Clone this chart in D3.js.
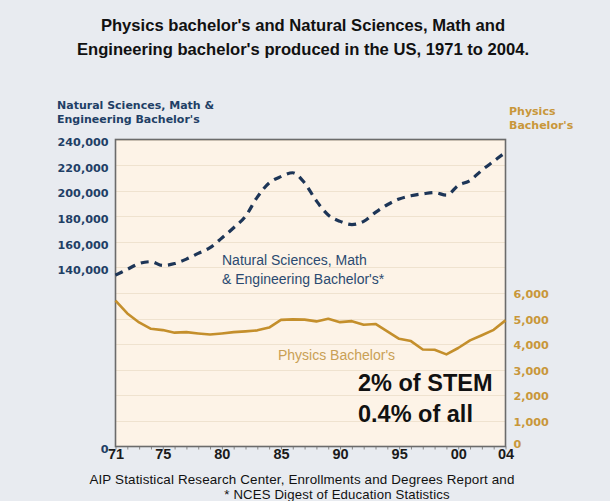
<!DOCTYPE html>
<html><head><meta charset="utf-8">
<script src="https://cdn.jsdelivr.net/npm/d3@7"></script>
<style>
html,body{margin:0;padding:0;background:#e8ebf0;}
svg{display:block;}
</style></head>
<body>
<script>
const years = d3.range(1971, 2005);
const nsmeValues = [134000,138500,143000,144500,141500,143000,146500,151000,155500,163000,
  171000,180000,195000,206000,211000,214000,206000,192000,181000,176000,
  173500,176000,183000,189000,193500,196000,197500,198500,196500,204000,
  208000,216000,223000,230000];
const physicsValues = [5700,5200,4850,4600,4550,4450,4470,4420,4380,4420,
  4470,4500,4540,4650,4950,4970,4960,4890,4990,4860,
  4900,4760,4790,4500,4210,4120,3790,3780,3600,3850,
  4150,4350,4560,4930];
const leftTicks = [0,140000,160000,180000,200000,220000,240000];
const gridValues = d3.range(20000, 240001, 20000);
const rightTicks = [0,1000,2000,3000,4000,5000,6000];
const xTickYears = [1971,1975,1980,1985,1990,1995,2000,2004];
const xTickLabels = ["71","75","80","85","90","95","00","04"];
const titleLines = ["Physics bachelor's and Natural Sciences, Math and",
  "Engineering bachelor's produced in the US, 1971 to 2004."];
const leftTitle = ["Natural Sciences, Math &", "Engineering Bachelor's"];
const rightTitle = ["Physics", "Bachelor's"];
const nsmeLabel = ["Natural Sciences, Math", "& Engineering Bachelor's*"];
const physicsLabel = "Physics Bachelor's";
const noteLines = ["2% of STEM", "0.4% of all"];
const sourceLines = ["AIP Statistical Research Center, Enrollments and Degrees Report and",
  "* NCES Digest of Education Statistics"];

const W = 610, H = 501;
const L = 115.5, R = 505.5, T = 139.5, B = 446.5;
const navy = "#1d3557", gold = "#c48f2c";

const svg = d3.select("body").append("svg").attr("width", W).attr("height", H);
svg.append("rect").attr("width", W).attr("height", H).attr("fill", "#e8ebf0");

const x = d3.scaleLinear().domain([1971, 2004]).range([L, R]);
const yL = d3.scaleLinear().domain([0, 240000]).range([B, T]);
const yR = d3.scaleLinear().domain([0, 12000]).range([B, T]);

// plot background
svg.append("rect").attr("x", L).attr("y", T).attr("width", R - L).attr("height", B - T)
  .attr("fill", "#fdf3e7");

// grid
svg.append("g").selectAll("line").data(gridValues).join("line")
  .attr("x1", L).attr("x2", R).attr("y1", d => Math.round(yL(d)) + 0.5).attr("y2", d => Math.round(yL(d)) + 0.5)
  .attr("stroke", "#efe2cf").attr("stroke-width", 1);

// bottom minor ticks
const xAxis = svg.append("g").attr("transform", `translate(0,${B})`)
  .call(d3.axisBottom(x).tickValues(years).tickSize(3).tickFormat(""));
xAxis.select(".domain").remove();
xAxis.selectAll("line").attr("stroke", "#888");

// frame
svg.append("rect").attr("x", L).attr("y", T).attr("width", R - L).attr("height", B - T)
  .attr("fill", "none").attr("stroke", "#6b6b6b").attr("stroke-width", 1.6);

// x labels
const xLab = svg.append("g").attr("transform", `translate(0,${B})`)
  .call(d3.axisBottom(x).tickValues(xTickYears).tickSize(0)
    .tickFormat((d, i) => xTickLabels[i]));
xLab.select(".domain").remove();
xLab.selectAll("text").attr("font-family", "Liberation Sans, Arial, sans-serif")
  .attr("font-weight", "bold").attr("font-size", 14.5).attr("fill", "#1a1a1a")
  .attr("y", 0).attr("dy", "12.5px");

// left axis
const la = svg.append("g").attr("transform", `translate(${L - 7},0)`)
  .call(d3.axisLeft(yL).tickValues(leftTicks).tickSize(0).tickFormat(d3.format(",")));
la.select(".domain").remove();
la.selectAll("text").attr("font-family", "DejaVu Sans, sans-serif").attr("font-weight", "bold")
  .attr("font-size", 11.2).attr("fill", "#1f3f66").attr("x", 0).attr("dy", "0.55em");

// right axis
const ra = svg.append("g").attr("transform", `translate(${R + 8},0)`)
  .call(d3.axisRight(yR).tickValues(rightTicks).tickSize(0).tickFormat(d3.format(",")));
ra.select(".domain").remove();
ra.selectAll("text").attr("font-family", "DejaVu Sans, sans-serif").attr("font-weight", "bold")
  .attr("font-size", 11.2).attr("fill", "#c8973a").attr("x", 0)
  .attr("dy", d => d === 0 ? "0.1em" : "0.4em");

// titles
svg.append("g").selectAll("text").data(titleLines).join("text")
  .attr("x", 303).attr("y", (d, i) => 31 + i * 24).attr("text-anchor", "middle")
  .attr("font-family", "Liberation Sans, Arial, sans-serif").attr("font-weight", "bold")
  .attr("font-size", 16.6).attr("fill", "#111").text(d => d);

svg.append("g").selectAll("text").data(leftTitle).join("text")
  .attr("x", 57).attr("y", (d, i) => 109 + i * 14)
  .attr("font-family", "DejaVu Sans, sans-serif").attr("font-weight", "bold")
  .attr("font-size", 11).attr("fill", "#1f3f66").text(d => d);

svg.append("g").selectAll("text").data(rightTitle).join("text")
  .attr("x", 509).attr("y", (d, i) => 115 + i * 14)
  .attr("font-family", "DejaVu Sans, sans-serif").attr("font-weight", "bold")
  .attr("font-size", 11).attr("fill", "#c8973a").text(d => d);

// lines
const nsmeLine = d3.line().x((d, i) => x(years[i])).y(d => yL(d)).curve(d3.curveMonotoneX);
svg.append("path").datum(nsmeValues).attr("d", nsmeLine)
  .attr("fill", "none").attr("stroke", navy).attr("stroke-width", 3.2)
  .attr("stroke-dasharray", "8,6");

const physLine = d3.line().x((d, i) => x(years[i])).y(d => yR(d));
svg.append("path").datum(physicsValues).attr("d", physLine)
  .attr("fill", "none").attr("stroke", gold).attr("stroke-width", 2.6)
  .attr("stroke-linejoin", "round");

// series labels
svg.append("g").selectAll("text").data(nsmeLabel).join("text")
  .attr("x", 222).attr("y", (d, i) => 265 + i * 19)
  .attr("font-family", "Liberation Sans, Arial, sans-serif")
  .attr("font-size", 14).attr("fill", "#2b4a70").text(d => d);

svg.append("text").attr("x", 278).attr("y", 360)
  .attr("font-family", "Liberation Sans, Arial, sans-serif")
  .attr("font-size", 14).attr("fill", "#c9a055").text(physicsLabel);

svg.append("g").selectAll("text").data(noteLines).join("text")
  .attr("x", 358).attr("y", (d, i) => 391 + i * 31)
  .attr("font-family", "Liberation Sans, Arial, sans-serif").attr("font-weight", "bold")
  .attr("font-size", 23.5).attr("fill", "#111").text(d => d);

// source
svg.append("text").attr("x", 302).attr("y", 483.5).attr("text-anchor", "middle")
  .attr("font-family", "Liberation Sans, Arial, sans-serif").attr("font-size", 13.4)
  .attr("letter-spacing", 0.15)
  .attr("fill", "#111").text(sourceLines[0]);
svg.append("text").attr("x", 337).attr("y", 499).attr("text-anchor", "middle")
  .attr("font-family", "Liberation Sans, Arial, sans-serif").attr("font-size", 13.2)
  .attr("letter-spacing", 0.15)
  .attr("fill", "#111").text(sourceLines[1]);
</script>
</body></html>
